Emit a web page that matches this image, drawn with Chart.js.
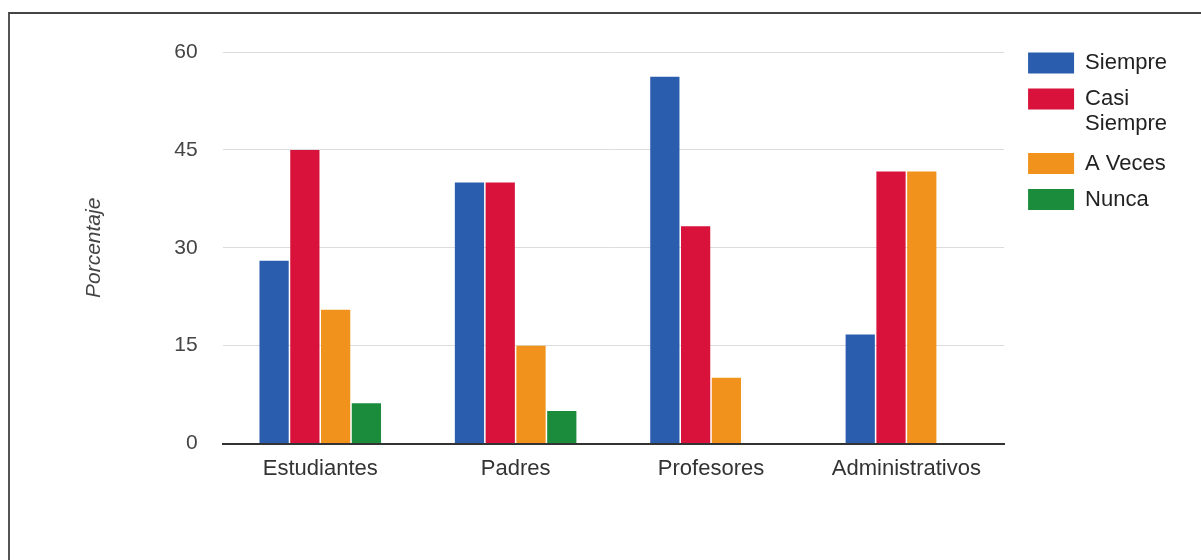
<!DOCTYPE html>
<html>
<head>
<meta charset="utf-8">
<script src="https://cdn.jsdelivr.net/npm/chart.js@4"></script>
<style>
  body { margin: 0; background: #fff; }
  .frame {
    position: absolute; left: 8px; top: 12px; width: 1193px; height: 548px;
    border-left: 2px solid #555; border-top: 2px solid #444;
  }
  #grafico { position: absolute; left: 0; top: 0; }
</style>
</head>
<body>
<div class="frame"></div>
<canvas id="grafico" width="1201" height="560"></canvas>
<script>
// datos (porcentaje por grupo)
const categorias = ['Estudiantes', 'Padres', 'Profesores', 'Administrativos'];
const siempre     = [28, 40, 56.2, 16.7];
const casiSiempre = [45, 40, 33.3, 41.7];
const aVeces      = [20.5, 15, 10.1, 41.7];
const nunca       = [6.2, 5, 0, 0];
const marcasY     = [0, 15, 30, 45, 60];

const fuente = "'Liberation Sans', Arial, sans-serif";

// la leyenda va arriba a la derecha, pegada a la linea del 60
const moverLeyenda = {
  id: 'moverLeyenda',
  afterLayout(chart) {
    const lg = chart.legend;
    const dx = chart.chartArea.right + 10 - lg.left;
    lg.left += dx; lg.right += dx;
    lg.top -= 14; lg.bottom -= 14;
  }
};

new Chart(document.getElementById('grafico'), {
  type: 'bar',
  data: {
    labels: categorias,
    datasets: [
      { label: 'Siempre', data: siempre, backgroundColor: '#2b5dae' },
      { label: ['Casi', 'Siempre'], data: casiSiempre, backgroundColor: '#d8123a' },
      { label: 'A Veces', data: aVeces, backgroundColor: '#f0921b' },
      { label: 'Nunca', data: nunca, backgroundColor: '#1a8c3c' }
    ]
  },
  options: {
    responsive: false,
    animation: false,
    layout: { padding: { left: 78, top: 52, right: 34, bottom: 66 } },
    datasets: { bar: { categoryPercentage: 0.63, barPercentage: 0.95 } },
    plugins: {
      tooltip: { enabled: false },
      legend: {
        position: 'right',
        align: 'start',
        labels: {
          boxWidth: 46,
          boxHeight: 21,
          padding: 14,
          color: '#222',
          font: { family: fuente, size: 22, lineHeight: 1.15 }
        }
      }
    },
    scales: {
      x: {
        grid: { display: false, drawTicks: false },
        border: { color: '#333', width: 2 },
        ticks: { color: '#333', padding: 12, font: { family: fuente, size: 22 } }
      },
      y: {
        min: 0,
        max: 60,
        afterBuildTicks: (axis) => { axis.ticks = marcasY.map(v => ({ value: v })); },
        grid: { color: '#dcdcdc', drawTicks: false },
        border: { display: false },
        ticks: { color: '#444', padding: 25, font: { family: fuente, size: 21 } },
        title: {
          display: true,
          text: 'Porcentaje',
          color: '#444',
          padding: { top: 4, bottom: 42 },
          font: { family: fuente, size: 21, style: 'italic' }
        }
      }
    }
  },
  plugins: [moverLeyenda]
});
</script>
</body>
</html>
